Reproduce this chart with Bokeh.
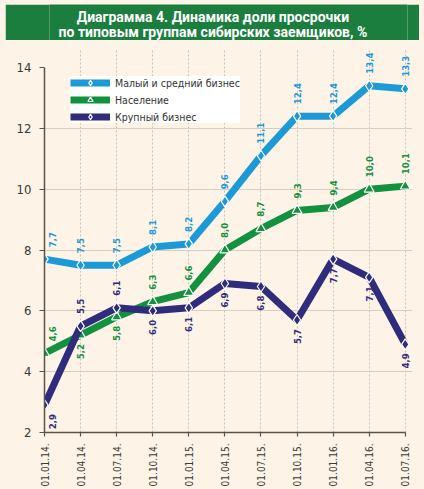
import math
from bokeh.plotting import figure
from bokeh.layouts import column
from bokeh.models import (ColumnDataSource, Range1d, FixedTicker, LabelSet,
                          Legend, LegendItem)
from bokeh.core.properties import value
from bokeh.embed import file_html
from bokeh.resources import INLINE

# ---- data ----
dates = ["01.01.14.", "01.04.14.", "01.07.14.", "01.10.14.", "01.01.15.", "01.04.15.",
         "01.07.15.", "01.10.15.", "01.01.16.", "01.04.16.", "01.07.16."]
sme = [7.7, 7.5, 7.5, 8.1, 8.2, 9.6, 11.1, 12.4, 12.4, 13.4, 13.3]
population = [4.6, 5.2, 5.8, 6.3, 6.6, 8.0, 8.7, 9.3, 9.4, 10.0, 10.1]
large = [2.9, 5.5, 6.1, 6.0, 6.1, 6.9, 6.8, 5.7, 7.7, 7.1, 4.9]
series_names = ["Малый и средний бизнес", "Население", "Крупный бизнес"]
# label side: 1 above, -1 below
pop_side = [1, -1, -1, 1, 1, 1, 1, 1, 1, 1, 1]
large_side = [-1, 1, 1, -1, -1, -1, -1, -1, -1, -1, -1]
sme_side = [1] * 11
y_ticks = [2, 4, 6, 8, 10, 12, 14]
title_lines = ["Диаграмма 4. Динамика доли просрочки",
               "по типовым группам сибирских заемщиков, %"]

BG = "#fdf3e6"
C_BLUE = "#1b9ad7"
C_GREEN = "#12913f"
C_NAVY = "#2f2b7d"
C_TITLE = "#1b7e3e"
FONT = "DejaVu Sans Condensed"

xs = list(range(len(dates)))

# ---- title strip (whole canvas filled green, range = page pixels) ----
t = figure(width=414, height=36, output_backend="svg", toolbar_location=None,
           x_range=Range1d(44, 412), y_range=Range1d(36, 0),
           x_axis_location=None, y_axis_location=None,
           min_border_left=39, min_border_right=7, min_border_top=0, min_border_bottom=0)
t.margin = (4, 5, 4, 5)
t.grid.visible = False
t.outline_line_color = None
t.background_fill_color = C_TITLE
t.border_fill_color = C_TITLE
t.text(x=[212, 212], y=[12, 27], text=title_lines, text_align="center",
       text_baseline="middle", text_font=value("Roboto"), text_font_style="bold",
       text_font_size="14px", text_color="white")

# ---- main chart ----
p = figure(width=424, height=445, output_backend="svg", toolbar_location=None,
           x_range=Range1d(0, 10.2), y_range=Range1d(2, 14.625),
           min_border_left=44, min_border_right=12, min_border_top=4, min_border_bottom=57)
p.background_fill_color = BG
p.border_fill_color = BG
p.outline_line_color = None

for ax in (p.xaxis[0], p.yaxis[0]):
    ax.axis_line_color = "#5b524a"
    ax.axis_line_width = 1.5
    ax.major_tick_line_color = "#5b524a"
    ax.major_tick_line_width = 1.2
    ax.minor_tick_line_color = None
    ax.major_tick_in = 0
    ax.major_label_text_font = FONT
    ax.major_label_text_color = "#3a3a3a"

p.xaxis.ticker = FixedTicker(ticks=xs)
p.xaxis.major_label_overrides = {i: d for i, d in enumerate(dates)}
p.xaxis.major_label_orientation = math.pi / 2
p.xaxis.major_label_text_font_size = "10px"
p.xaxis.major_tick_out = 4
p.xaxis.major_label_standoff = 7
p.xaxis.bounds = (0, 10)

p.yaxis.ticker = FixedTicker(ticks=y_ticks)
p.yaxis.major_label_text_font_size = "13px"
p.yaxis.major_tick_out = 5
p.yaxis.major_label_standoff = 8
p.yaxis.bounds = (2, 14)

p.ygrid.ticker = FixedTicker(ticks=[4, 6, 8, 10, 12])
p.ygrid.grid_line_color = "#d6cdc3"
p.ygrid.grid_line_width = 1
p.xgrid.ticker = FixedTicker(ticks=xs[1:])
p.xgrid.grid_line_color = "#c9c0b6"
p.xgrid.grid_line_dash = "2 2"
p.xgrid.grid_line_width = 1

series = [(sme, C_BLUE, "diamond", sme_side),
          (population, C_GREEN, "triangle", pop_side),
          (large, C_NAVY, "diamond", large_side)]
items = []
for (vals, col, mk, side), name in zip(series, series_names):
    src = ColumnDataSource(dict(x=xs, y=vals))
    lr = p.line("x", "y", source=src, line_color=col, line_width=7, line_join="round")
    sr = p.scatter("x", "y", source=src, marker=mk, size=11 if mk == "diamond" else 10,
                   fill_color=col, line_color="white", line_width=1.2)
    items.append(LegendItem(label=name, renderers=[lr, sr]))
    for s in (1, -1):
        idx = [i for i in xs if side[i] == s]
        lsrc = ColumnDataSource(dict(x=[xs[i] for i in idx], y=[vals[i] for i in idx],
                                     t=[f"{vals[i]:.1f}".replace(".", ",") for i in idx],
                                     dx=[8 if i == 0 else 0 for i in idx]))
        ls = LabelSet(x="x", y="y", text="t", source=lsrc, angle=math.pi / 2,
                      x_offset="dx", y_offset=12 if s == 1 else -9,
                      text_align="left" if s == 1 else "right", text_baseline="middle",
                      text_font=value(FONT), text_font_style="bold",
                      text_font_size="9.5px", text_color=col)
        p.add_layout(ls)

legend = Legend(items=items, location=(26, 309), background_fill_color="white",
                background_fill_alpha=1, border_line_color=None,
                label_text_font=FONT, label_text_font_size="10.5px", label_text_color="#333333",
                glyph_width=40, glyph_height=13, label_height=13, label_standoff=5,
                spacing=4, padding=5, margin=0)
p.add_layout(legend)

layout = column(t, p, spacing=0, styles={"background-color": BG})
open("out.html", "w").write(file_html(layout, INLINE))
